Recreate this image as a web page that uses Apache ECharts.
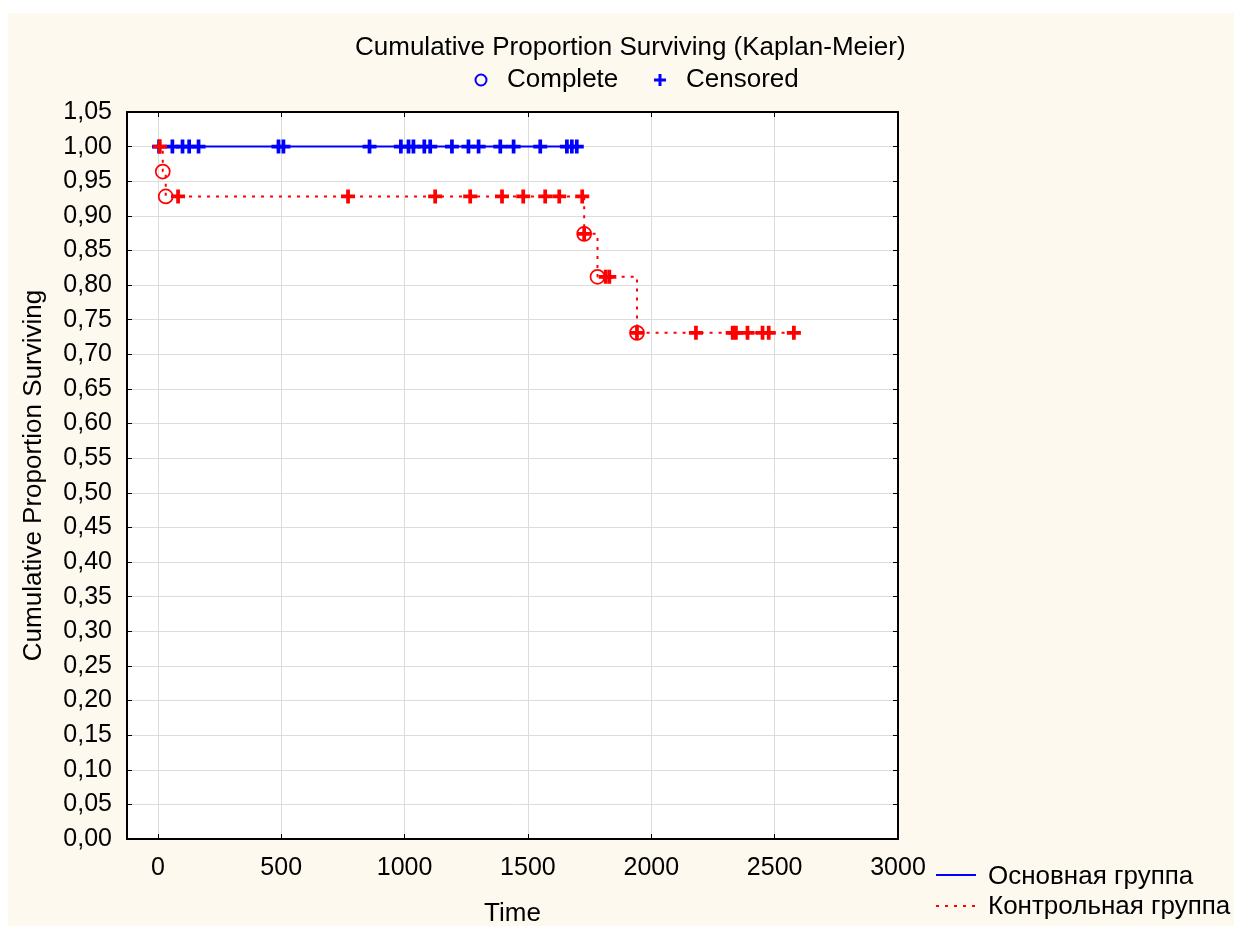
<!DOCTYPE html>
<html>
<head>
<meta charset="utf-8">
<script src="https://cdn.jsdelivr.net/npm/echarts@6/dist/echarts.min.js"></script>
<style>
html,body{margin:0;padding:0;background:#ffffff;}
#chart{width:1234px;height:926px;}
</style>
</head>
<body>
<div id="chart"></div>
<script>
// ---- data ----
var xTickValues = [0, 500, 1000, 1500, 2000, 2500, 3000];
var groupNames = ['Основная группа', 'Контрольная группа'];
var legendNames = ['Complete', 'Censored'];

// Main group (blue): no events, survival stays at 1.00
var blueLineTimes = [0, 1698];
var blueLineSurv = [1.00, 1.00];
var blueCensoredTimes = [5, 59, 100, 127, 165, 489, 509, 858, 985, 1016, 1036, 1080, 1104, 1192, 1259, 1300, 1388, 1442, 1550, 1658, 1678, 1698];
var blueCensoredSurv = [1, 1, 1, 1, 1, 1, 1, 1, 1, 1, 1, 1, 1, 1, 1, 1, 1, 1, 1, 1, 1, 1];

// Control group (red): Kaplan-Meier step curve
var redLineTimes = [0, 20, 32, 1728, 1782, 1942, 2578];
var redLineSurv = [1.000, 0.964, 0.928, 0.874, 0.812, 0.731, 0.731];
var redCompleteTimes = [20, 32, 1728, 1782, 1942];
var redCompleteSurv = [0.964, 0.928, 0.874, 0.812, 0.731];
var redCensoredTimes = [8, 82, 771, 1124, 1266, 1395, 1481, 1570, 1627, 1720, 1728, 1815, 1830, 1942, 2181, 2330, 2343, 2390, 2451, 2476, 2578];
var redCensoredSurv = [1.000, 0.928, 0.928, 0.928, 0.928, 0.928, 0.928, 0.928, 0.928, 0.928, 0.874, 0.812, 0.812, 0.731, 0.731, 0.731, 0.731, 0.731, 0.731, 0.731, 0.731];

function pairs(xs, ys) { return xs.map(function (x, i) { return [x, ys[i]]; }); }

var FONT = "'Liberation Sans', Arial, sans-serif";
var PLUS = 'path://M4.4,0H7.6V4.4H12V7.6H7.6V12H4.4V7.6H0V4.4H4.4Z';

var chart = echarts.init(document.getElementById('chart'), null, {renderer: 'canvas'});

var xBase = {
  type: 'value', min: -125, max: 3000,
  axisLine: {show: true, onZero: false, lineStyle: {color: '#000', width: 2}},
  axisTick: {show: true, inside: true, length: 5, customValues: xTickValues, lineStyle: {color: '#000', width: 1}},
  splitLine: {show: false}
};
var yBase = {
  type: 'value', min: 0, max: 1.05, interval: 0.05,
  axisLine: {show: true, onZero: false, lineStyle: {color: '#000', width: 2}},
  axisTick: {show: true, inside: true, length: 5, lineStyle: {color: '#000', width: 1}},
  splitLine: {show: false}
};

var option = {
  animation: false,
  textStyle: {fontFamily: FONT},
  title: {
    text: 'Cumulative Proportion Surviving (Kaplan-Meier)',
    left: 350, top: 30,
    textStyle: {fontFamily: FONT, fontSize: 26, fontWeight: 'normal', color: '#000'}
  },
  grid: {left: 127, top: 112, width: 771, height: 727, show: true, backgroundColor: '#ffffff', borderWidth: 0,
    containLabel: false, outerBoundsMode: 'none'},
  xAxis: [
    Object.assign({}, xBase, {
      position: 'bottom',
      name: 'Time', nameLocation: 'middle', nameGap: 62,
      nameTextStyle: {fontFamily: FONT, fontSize: 26, color: '#000'},
      axisLabel: {show: true, customValues: xTickValues, margin: 17, fontSize: 25, color: '#000', fontFamily: FONT,
        formatter: function (v) { return String(v); }},
      splitLine: {show: true, lineStyle: {color: '#dcdcdc', width: 1}}
    }),
    Object.assign({}, xBase, {position: 'top', axisLabel: {show: false}})
  ],
  yAxis: [
    Object.assign({}, yBase, {
      position: 'left',
      name: 'Cumulative Proportion Surviving', nameLocation: 'middle', nameGap: 80,
      nameTextStyle: {fontFamily: FONT, fontSize: 26, color: '#000'},
      axisLabel: {show: true, margin: 15, fontSize: 25, color: '#000', fontFamily: FONT,
        formatter: function (v) { return v.toFixed(2).replace('.', ','); }},
      splitLine: {show: true, lineStyle: {color: '#dcdcdc', width: 1}}
    }),
    Object.assign({}, yBase, {position: 'right', axisLabel: {show: false}})
  ],
  series: [
    {
      name: groupNames[0], type: 'line', data: pairs(blueLineTimes, blueLineSurv),
      showSymbol: false, symbol: 'none', lineStyle: {color: '#0000ff', width: 2}, z: 2
    },
    {
      name: groupNames[0] + ' censored', type: 'scatter', data: pairs(blueCensoredTimes, blueCensoredSurv),
      symbol: PLUS, symbolSize: 14, itemStyle: {color: '#0000ff', opacity: 1}, z: 3
    },
    {
      name: groupNames[1], type: 'line', step: 'end', data: pairs(redLineTimes, redLineSurv),
      showSymbol: false, symbol: 'none', lineStyle: {color: '#ff0000', width: 2, type: [3, 6]}, z: 4
    },
    {
      name: groupNames[1] + ' complete', type: 'scatter', data: pairs(redCompleteTimes, redCompleteSurv),
      symbol: 'circle', symbolSize: 14,
      itemStyle: {color: 'rgba(0,0,0,0)', borderColor: '#ff0000', borderWidth: 1.7, opacity: 1}, z: 5
    },
    {
      name: groupNames[1] + ' censored', type: 'scatter', data: pairs(redCensoredTimes, redCensoredSurv),
      symbol: PLUS, symbolSize: 14, itemStyle: {color: '#ff0000', opacity: 1}, z: 6
    }
  ],
  graphic: [
    {type: 'rect', z: -100, silent: true, shape: {x: 8, y: 13, width: 1226, height: 913}, style: {fill: '#fdf9ef'}},
    // top legend
    {type: 'circle', shape: {cx: 481, cy: 80, r: 5.5}, style: {fill: 'none', stroke: '#0000ff', lineWidth: 2}},
    {type: 'text', x: 507, y: 80, style: {text: legendNames[0], font: '26px ' + FONT, fill: '#000', verticalAlign: 'middle', align: 'left'}},
    {type: 'rect', shape: {x: 654, y: 78.5, width: 12, height: 3}, style: {fill: '#0000ff'}},
    {type: 'rect', shape: {x: 658.5, y: 74, width: 3, height: 12}, style: {fill: '#0000ff'}},
    {type: 'text', x: 686, y: 80, style: {text: legendNames[1], font: '26px ' + FONT, fill: '#000', verticalAlign: 'middle', align: 'left'}},
    // bottom-right legend
    {type: 'line', shape: {x1: 936, y1: 875, x2: 976, y2: 875}, style: {stroke: '#0000ff', lineWidth: 2}},
    {type: 'text', x: 988, y: 877, style: {text: groupNames[0], font: '26px ' + FONT, fill: '#000', verticalAlign: 'middle', align: 'left'}},
    {type: 'line', shape: {x1: 936, y1: 906, x2: 976, y2: 906}, style: {stroke: '#ff0000', lineWidth: 2, lineDash: [3, 6]}},
    {type: 'text', x: 988, y: 907, style: {text: groupNames[1], font: '26px ' + FONT, fill: '#000', verticalAlign: 'middle', align: 'left'}}
  ]
};
chart.setOption(option);
</script>
</body>
</html>
